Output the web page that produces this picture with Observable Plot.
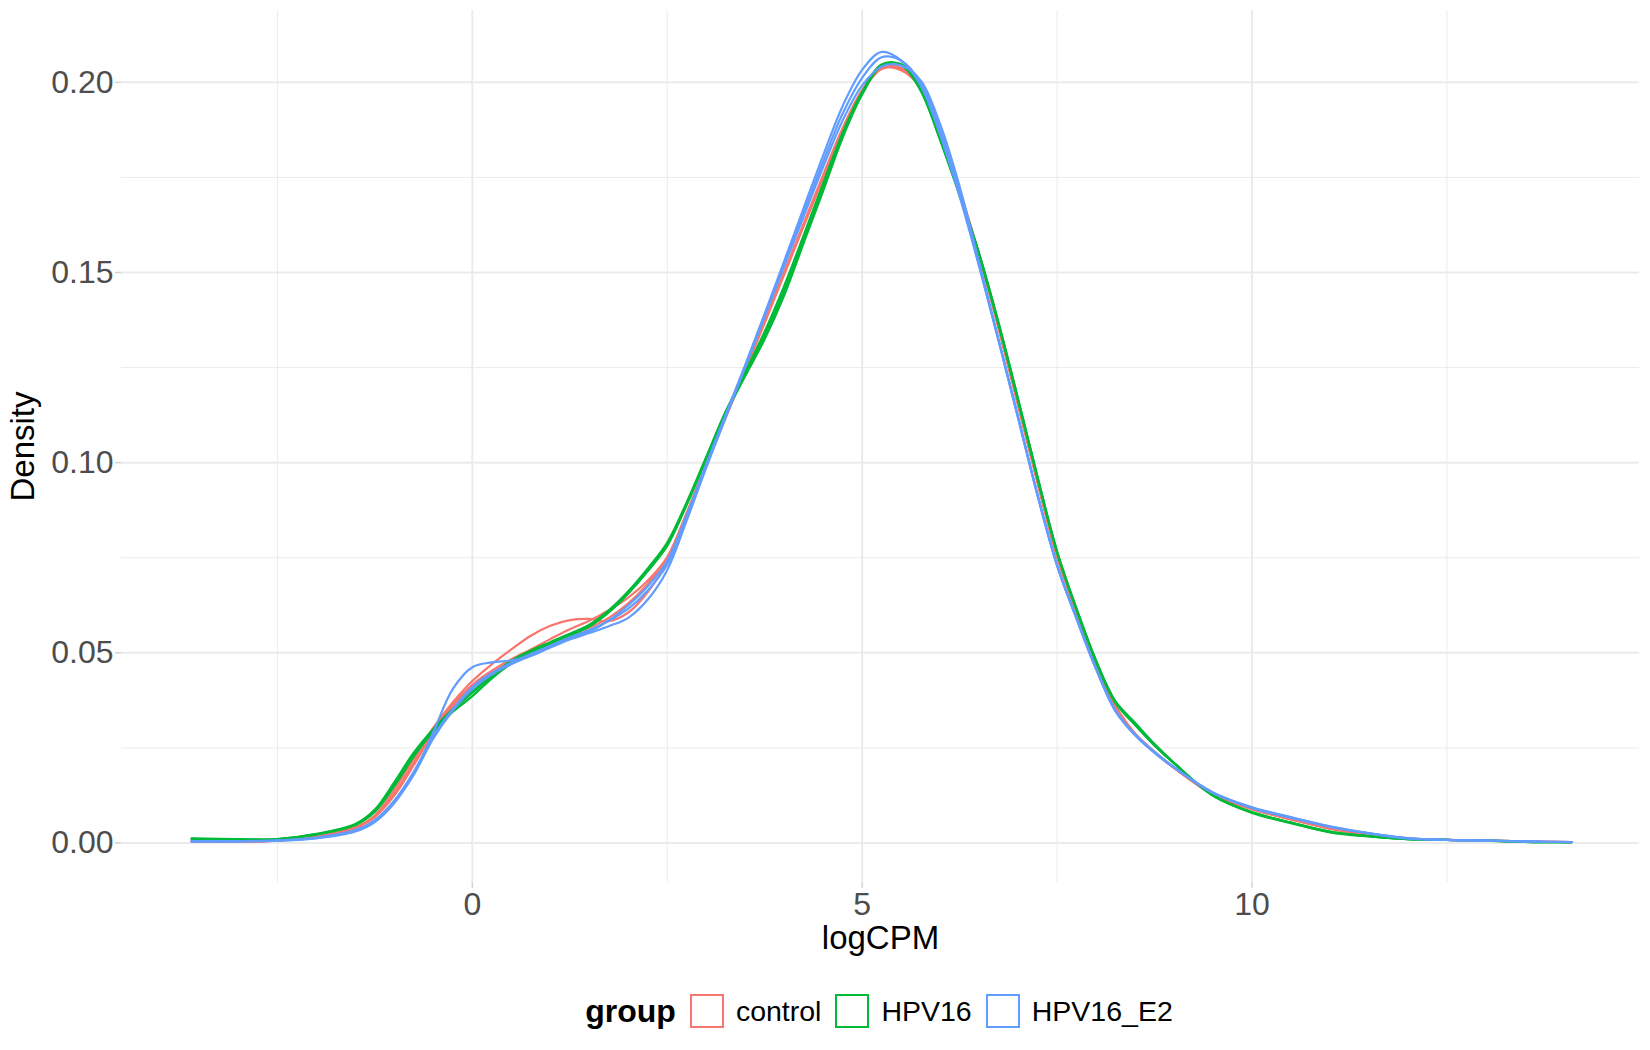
<!DOCTYPE html>
<html>
<head>
<meta charset="utf-8">
<script src="https://cdn.jsdelivr.net/npm/d3@7"></script>
<script src="https://cdn.jsdelivr.net/npm/@observablehq/plot@0.6"></script>
<style>
  html, body { margin: 0; padding: 0; background: #ffffff; }
  #chart svg { display: block; }
  #legend {
    display: flex; justify-content: center; align-items: center;
    margin-left: 122px; width: 1528px; height: 72px;
    font-family: "Liberation Sans", Arial, Helvetica, sans-serif; color: #000;
  }
  #legend .title { font-weight: bold; font-size: 32px; margin-right: 14px; }
  #legend .key { box-sizing: border-box; width: 34px; height: 34px; border: 2px solid; background: #fff; }
  #legend .lab { font-size: 28.5px; margin-left: 12px; margin-right: 14px; }
</style>
</head>
<body>
<div id="chart"></div>
<div id="legend"></div>
<script>
// x grid (logCPM) at which densities were read
const logCPM = [-3.6, -3, -2.5, -2, -1.5, -1.25, -1, -0.75, -0.5, -0.25, 0, 0.25, 0.5, 0.75, 1, 1.25, 1.5, 1.75, 2, 2.25, 2.5, 2.75, 3, 3.25, 3.5, 3.75, 4, 4.25, 4.5, 4.75, 5, 5.25, 5.5, 5.75, 6, 6.25, 6.5, 6.75, 7, 7.25, 7.5, 7.75, 8, 8.25, 8.5, 8.75, 9, 9.5, 10, 10.5, 11, 11.5, 12, 12.5, 13, 13.5, 14.1];

const control_1 = [0.0004, 0.0004, 0.0006, 0.0017, 0.0040, 0.0073, 0.0140, 0.0222, 0.0303, 0.0370, 0.0426, 0.0470, 0.0509, 0.0545, 0.0571, 0.0586, 0.0589, 0.0583, 0.0606, 0.0660, 0.0740, 0.0862, 0.0993, 0.1118, 0.1242, 0.1368, 0.1495, 0.1622, 0.1748, 0.1872, 0.1975, 0.2035, 0.2036, 0.1990, 0.1872, 0.1718, 0.1548, 0.1358, 0.1155, 0.0950, 0.0756, 0.0608, 0.0470, 0.0360, 0.0288, 0.0240, 0.0198, 0.0127, 0.0089, 0.0062, 0.0038, 0.0021, 0.0011, 0.0008, 0.0006, 0.0004, 0.0002];
const control_2 = [0.0004, 0.0004, 0.0007, 0.0018, 0.0042, 0.0070, 0.0130, 0.0212, 0.0295, 0.0363, 0.0416, 0.0453, 0.0483, 0.0509, 0.0536, 0.0562, 0.0584, 0.0612, 0.0645, 0.0690, 0.0752, 0.0868, 0.0998, 0.1122, 0.1245, 0.1370, 0.1498, 0.1625, 0.1750, 0.1875, 0.1978, 0.2037, 0.2032, 0.1985, 0.1866, 0.1712, 0.1542, 0.1352, 0.1150, 0.0946, 0.0752, 0.0605, 0.0468, 0.0358, 0.0286, 0.0238, 0.0197, 0.0128, 0.0090, 0.0063, 0.0039, 0.0022, 0.0012, 0.0008, 0.0006, 0.0004, 0.0002];
const control_3 = [0.0003, 0.0003, 0.0006, 0.0016, 0.0039, 0.0068, 0.0125, 0.0205, 0.0290, 0.0360, 0.0412, 0.0448, 0.0476, 0.0500, 0.0524, 0.0547, 0.0566, 0.0592, 0.0630, 0.0682, 0.0750, 0.0868, 0.0997, 0.1122, 0.1247, 0.1373, 0.1502, 0.1630, 0.1757, 0.1880, 0.1980, 0.2040, 0.2038, 0.1988, 0.1868, 0.1714, 0.1545, 0.1355, 0.1152, 0.0948, 0.0754, 0.0606, 0.0469, 0.0359, 0.0287, 0.0239, 0.0198, 0.0127, 0.0089, 0.0062, 0.0037, 0.0021, 0.0011, 0.0008, 0.0006, 0.0004, 0.0002];

const HPV16_1 = [0.0011, 0.0009, 0.0010, 0.0024, 0.0050, 0.0088, 0.0160, 0.0238, 0.0300, 0.0352, 0.0398, 0.0441, 0.0479, 0.0506, 0.0528, 0.0550, 0.0574, 0.0612, 0.0662, 0.0722, 0.0790, 0.0896, 0.1015, 0.1135, 0.1235, 0.1335, 0.1452, 0.1588, 0.1725, 0.1862, 0.1972, 0.2046, 0.2046, 0.1978, 0.1848, 0.1702, 0.1548, 0.1365, 0.1165, 0.0960, 0.0765, 0.0614, 0.0478, 0.0370, 0.0313, 0.0258, 0.0210, 0.0124, 0.0080, 0.0053, 0.0029, 0.0018, 0.0010, 0.0008, 0.0006, 0.0003, 0.0002];
const HPV16_2 = [0.0012, 0.0010, 0.0010, 0.0023, 0.0048, 0.0084, 0.0152, 0.0230, 0.0294, 0.0345, 0.0386, 0.0433, 0.0472, 0.0500, 0.0523, 0.0545, 0.0569, 0.0606, 0.0656, 0.0715, 0.0783, 0.0890, 0.1010, 0.1128, 0.1228, 0.1325, 0.1440, 0.1578, 0.1715, 0.1855, 0.1968, 0.2044, 0.2048, 0.1982, 0.1852, 0.1706, 0.1550, 0.1368, 0.1168, 0.0962, 0.0767, 0.0616, 0.0480, 0.0372, 0.0316, 0.0260, 0.0211, 0.0125, 0.0079, 0.0052, 0.0028, 0.0017, 0.0010, 0.0008, 0.0006, 0.0003, 0.0002];
const HPV16_3 = [0.0010, 0.0008, 0.0009, 0.0022, 0.0047, 0.0082, 0.0150, 0.0228, 0.0296, 0.0350, 0.0395, 0.0438, 0.0476, 0.0503, 0.0526, 0.0548, 0.0571, 0.0608, 0.0658, 0.0716, 0.0782, 0.0890, 0.1012, 0.1130, 0.1238, 0.1345, 0.1465, 0.1598, 0.1735, 0.1868, 0.1975, 0.2047, 0.2045, 0.1980, 0.1850, 0.1704, 0.1547, 0.1362, 0.1162, 0.0958, 0.0763, 0.0612, 0.0476, 0.0368, 0.0310, 0.0256, 0.0209, 0.0125, 0.0081, 0.0054, 0.0030, 0.0018, 0.0010, 0.0008, 0.0006, 0.0003, 0.0002];

const HPV16_E2_1 = [0.0005, 0.0005, 0.0007, 0.0014, 0.0034, 0.0058, 0.0110, 0.0181, 0.0292, 0.0405, 0.0462, 0.0475, 0.0480, 0.0492, 0.0515, 0.0537, 0.0556, 0.0585, 0.0625, 0.0675, 0.0742, 0.0862, 0.0997, 0.1127, 0.1257, 0.1392, 0.1530, 0.1670, 0.1808, 0.1938, 0.2033, 0.2080, 0.2058, 0.1992, 0.1862, 0.1700, 0.1516, 0.1322, 0.1120, 0.0916, 0.0731, 0.0590, 0.0458, 0.0346, 0.0283, 0.0237, 0.0198, 0.0132, 0.0093, 0.0067, 0.0043, 0.0025, 0.0012, 0.0008, 0.0006, 0.0004, 0.0002];
const HPV16_E2_2 = [0.0004, 0.0004, 0.0006, 0.0012, 0.0030, 0.0055, 0.0105, 0.0180, 0.0275, 0.0348, 0.0405, 0.0443, 0.0470, 0.0492, 0.0514, 0.0535, 0.0552, 0.0570, 0.0592, 0.0640, 0.0718, 0.0848, 0.0987, 0.1120, 0.1252, 0.1387, 0.1522, 0.1657, 0.1792, 0.1918, 0.2012, 0.2066, 0.2057, 0.2000, 0.1875, 0.1712, 0.1520, 0.1320, 0.1116, 0.0912, 0.0729, 0.0589, 0.0457, 0.0348, 0.0284, 0.0238, 0.0199, 0.0133, 0.0094, 0.0068, 0.0044, 0.0026, 0.0013, 0.0008, 0.0006, 0.0004, 0.0002];
const HPV16_E2_3 = [0.0004, 0.0004, 0.0006, 0.0013, 0.0033, 0.0060, 0.0112, 0.0188, 0.0282, 0.0352, 0.0410, 0.0447, 0.0474, 0.0497, 0.0519, 0.0541, 0.0560, 0.0584, 0.0616, 0.0664, 0.0732, 0.0856, 0.0990, 0.1122, 0.1252, 0.1385, 0.1517, 0.1648, 0.1778, 0.1900, 0.1992, 0.2042, 0.2044, 0.2005, 0.1890, 0.1726, 0.1526, 0.1324, 0.1120, 0.0915, 0.0730, 0.0590, 0.0459, 0.0347, 0.0285, 0.0239, 0.0199, 0.0131, 0.0092, 0.0066, 0.0042, 0.0025, 0.0012, 0.0008, 0.0006, 0.0004, 0.0002];

const groups = ["control", "HPV16", "HPV16_E2"];
const groupColors = ["#F8766D", "#00BA38", "#619CFF"];

const xTicks = [0, 5, 10];
const xMinor = [-2.5, 2.5, 7.5, 12.5];
const yTicks = [0, 0.05, 0.10, 0.15, 0.20];
const yMinor = [0.025, 0.075, 0.125, 0.175];

const samples = [
  {sample: "control_1", group: "control", values: control_1},
  {sample: "control_2", group: "control", values: control_2},
  {sample: "control_3", group: "control", values: control_3},
  {sample: "HPV16_1", group: "HPV16", values: HPV16_1},
  {sample: "HPV16_2", group: "HPV16", values: HPV16_2},
  {sample: "HPV16_3", group: "HPV16", values: HPV16_3},
  {sample: "HPV16_E2_1", group: "HPV16_E2", values: HPV16_E2_1},
  {sample: "HPV16_E2_2", group: "HPV16_E2", values: HPV16_E2_2},
  {sample: "HPV16_E2_3", group: "HPV16_E2", values: HPV16_E2_3}
];

const rows = samples.flatMap(s => logCPM.map((x, i) => ({x, y: s.values[i], sample: s.sample, group: s.group})));

const FONT = "'Liberation Sans', Arial, Helvetica, sans-serif";
const grid = "#EBEBEB";

const chart = Plot.plot({
  width: 1650,
  height: 975,
  marginLeft: 121,
  marginRight: 11,
  marginTop: 10,
  marginBottom: 93,
  style: {fontFamily: FONT, background: "#ffffff", overflow: "visible"},
  x: {domain: [-4.50, 14.97]},
  y: {domain: [-0.0104, 0.2189]},
  color: {domain: groups, range: groupColors},
  marks: [
    Plot.ruleX(xMinor, {stroke: grid, strokeWidth: 1}),
    Plot.ruleY(yMinor, {stroke: grid, strokeWidth: 1}),
    Plot.ruleX(xTicks, {stroke: grid, strokeWidth: 2}),
    Plot.ruleY(yTicks, {stroke: grid, strokeWidth: 2}),
    Plot.axisX({ticks: xTicks, tickSize: 6, tickPadding: 4, fontSize: 32, fill: "#4D4D4D", stroke: "#D4D4D4", strokeWidth: 1.5, label: null}),
    Plot.axisY({ticks: yTicks, tickFormat: d3.format(".2f"), tickSize: 6, tickPadding: 2, fontSize: 32, fill: "#4D4D4D", stroke: "#D4D4D4", strokeWidth: 1.5, label: null}),
    Plot.line(rows, {x: "x", y: "y", z: "sample", stroke: "group", strokeWidth: 2.2, curve: "catmull-rom"}),
    Plot.text(["logCPM"], {frameAnchor: "bottom", dy: 56, fontSize: 33, fill: "#000000", textAnchor: "middle", lineAnchor: "middle", text: d => d}),
    Plot.text(["Density"], {frameAnchor: "left", dx: -98, rotate: -90, fontSize: 33, fill: "#000000", textAnchor: "middle", lineAnchor: "middle", text: d => d})
  ]
});
document.getElementById("chart").appendChild(chart);

// legend below the plot
const legend = document.getElementById("legend");
const t = document.createElement("span");
t.className = "title";
t.textContent = "group";
legend.appendChild(t);
groups.forEach((g, i) => {
  const k = document.createElement("span");
  k.className = "key";
  k.style.borderColor = groupColors[i];
  legend.appendChild(k);
  const l = document.createElement("span");
  l.className = "lab";
  l.textContent = g;
  legend.appendChild(l);
});
</script>
</body>
</html>
